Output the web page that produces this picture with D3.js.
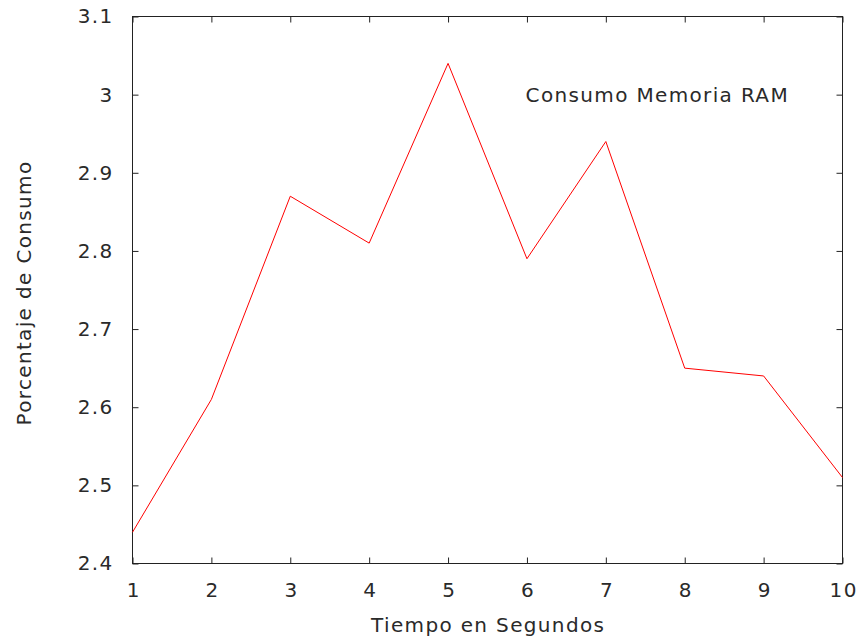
<!DOCTYPE html>
<html>
<head>
<meta charset="utf-8">
<script src="https://cdn.jsdelivr.net/npm/d3@7"></script>
<style>
  html, body { margin: 0; padding: 0; background: #fff; }
  svg text { font-family: "DejaVu Sans", sans-serif; fill: #2a2a2a; }
</style>
</head>
<body>
<svg id="chart" width="860" height="642"></svg>
<script>
// RAM usage sampled once per second
const seconds = [1, 2, 3, 4, 5, 6, 7, 8, 9, 10];
const ramPercent = [2.44, 2.61, 2.87, 2.81, 3.04, 2.79, 2.94, 2.65, 2.64, 2.51];
const xTicks = [1, 2, 3, 4, 5, 6, 7, 8, 9, 10];
const yTicks = [2.4, 2.5, 2.6, 2.7, 2.8, 2.9, 3.0, 3.1];
const seriesTitle = "Consumo Memoria RAM";
const xTitle = "Tiempo en Segundos";
const yTitle = "Porcentaje de Consumo";

const plotLeft = 132.5, plotRight = 842.5, plotTop = 16.5, plotBottom = 563.5;
const fontSize = 20, spacing = 1.35, tickLen = 6;

const svg = d3.select("#chart");
const x = d3.scaleLinear().domain([1, 10]).range([plotLeft, plotRight]);
const y = d3.scaleLinear().domain([2.4, 3.1]).range([plotBottom, plotTop]);

const fmtY = d => (d === 3 ? "3" : d3.format(".1f")(d));

// Axes: ticks point inward and are mirrored on the opposite side
const axisStyle = g => {
  g.select(".domain").remove();
  g.selectAll(".tick line").attr("stroke", "#222").attr("stroke-width", 1);
  g.selectAll(".tick text")
    .style("font-size", fontSize + "px")
    .style("letter-spacing", spacing + "px");
};

svg.append("g").attr("transform", `translate(0,${plotBottom})`)
  .call(d3.axisBottom(x).tickValues(xTicks).tickSizeInner(-tickLen).tickSizeOuter(0).tickPadding(19).tickFormat(d3.format("d")))
  .call(axisStyle)
  .call(g => g.selectAll(".tick text").attr("dx", spacing / 2));

svg.append("g").attr("transform", `translate(0,${plotTop})`)
  .call(d3.axisTop(x).tickValues(xTicks).tickSizeInner(-tickLen).tickSizeOuter(0).tickFormat(""))
  .call(axisStyle);

svg.append("g").attr("transform", `translate(${plotLeft},0)`)
  .call(d3.axisLeft(y).tickValues(yTicks).tickSizeInner(-tickLen).tickSizeOuter(0).tickPadding(19).tickFormat(fmtY))
  .call(axisStyle);

svg.append("g").attr("transform", `translate(${plotRight},0)`)
  .call(d3.axisRight(y).tickValues(yTicks).tickSizeInner(-tickLen).tickSizeOuter(0).tickFormat(""))
  .call(axisStyle);

// Plot border
svg.append("rect")
  .attr("x", plotLeft).attr("y", plotTop)
  .attr("width", plotRight - plotLeft).attr("height", plotBottom - plotTop)
  .attr("fill", "none").attr("stroke", "#222").attr("stroke-width", 1);

// Data line
const line = d3.line().x((d, i) => x(seconds[i])).y(d => y(d));
svg.append("path")
  .datum(ramPercent)
  .attr("d", line)
  .attr("fill", "none")
  .attr("stroke", "#ff0000")
  .attr("stroke-width", 1);

// Key title
svg.append("text")
  .attr("x", 789).attr("y", 102)
  .attr("text-anchor", "end")
  .style("font-size", fontSize + "px")
  .style("letter-spacing", spacing + "px")
  .text(seriesTitle);

// Axis titles
svg.append("text")
  .attr("x", (plotLeft + plotRight) / 2 + spacing / 2).attr("y", 632)
  .attr("text-anchor", "middle")
  .style("font-size", fontSize + "px")
  .style("letter-spacing", spacing + "px")
  .text(xTitle);

svg.append("text")
  .attr("transform", `translate(31,${(plotTop + plotBottom) / 2 + 3}) rotate(-90)`)
  .attr("text-anchor", "middle")
  .style("font-size", fontSize + "px")
  .style("letter-spacing", spacing + "px")
  .text(yTitle);
</script>
</body>
</html>
